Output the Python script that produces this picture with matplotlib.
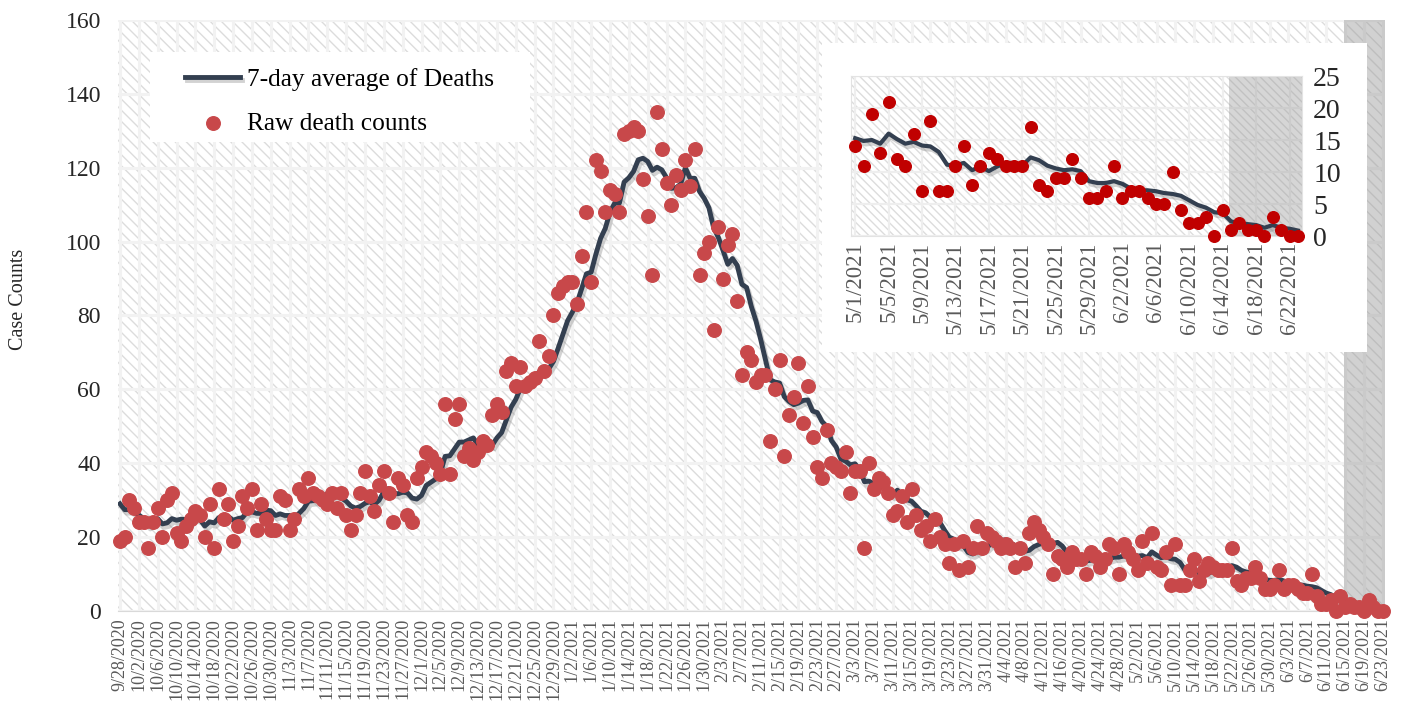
import numpy as np
import pandas as pd
import matplotlib
matplotlib.use("Agg")
import matplotlib.pyplot as plt
import matplotlib.patheffects as pe
from matplotlib.patches import Rectangle

plt.rcParams['font.family'] = ['Liberation Serif', 'DejaVu Serif']
plt.rcParams['hatch.linewidth'] = 1.0
plt.rcParams['hatch.color'] = '#DCDCDC'

# one category per day
dates = pd.date_range("2020-09-28", "2021-06-23", freq="D")

# 9/22-9/27, only used to seed the 7-day average
prior_week = [31, 30, 32, 30, 31, 30]

raw_deaths = [
    19, 20, 30, 28, 24, 24, 17, 24, 28, 20,
    30, 32, 21, 19, 23, 25, 27, 26, 20, 29,
    17, 33, 25, 29, 19, 23, 31, 28, 33, 22,
    29, 25, 22, 22, 31, 30, 22, 25, 33, 31,
    36, 32, 31, 30, 29, 32, 28, 32, 26, 22,
    26, 32, 38, 31, 27, 34, 38, 32, 24, 36,
    34, 26, 24, 36, 39, 43, 42, 40, 37, 56,
    37, 52, 56, 42, 44, 41, 43, 46, 45, 53,
    56, 54, 65, 67, 61, 66, 61, 62, 63, 73,
    65, 69, 80, 86, 88, 89, 89, 83, 96, 108,
    89, 122, 119, 108, 114, 113, 108, 129, 130, 131,
    130, 117, 107, 91, 135, 125, 116, 110, 118, 114,
    122, 115, 125, 91, 97, 100, 76, 104, 90, 99,
    102, 84, 64, 70, 68, 62, 64, 64, 46, 60,
    68, 42, 53, 58, 67, 51, 61, 47, 39, 36,
    49, 40, 39, 38, 43, 32, 38, 38, 17, 40,
    33, 36, 35, 32, 26, 27, 31, 24, 33, 26,
    22, 23, 19, 25, 20, 18, 13, 18, 11, 19,
    12, 17, 23, 17, 21, 20, 19, 17, 18, 17,
    12, 17, 13, 21, 24, 22, 20, 18, 10, 15,
    14, 12, 16, 14, 14, 10, 16, 15, 12, 14,
    18, 17, 10, 18, 16,
    14, 11, 19, 13, 21, 12, 11, 16, 7, 18,
    7, 7, 11, 14, 8, 11, 13, 12, 11, 11,
    11, 17, 8, 7, 9, 9, 12, 9, 6, 6,
    7, 11, 6, 7, 7, 6, 5, 5, 10, 4,
    2, 2, 3, 0, 4, 1, 2, 1, 1, 0,
    3, 1, 0, 0,
]

inset_start = "2021-05-01"
shade_start = "2021-06-15"

avg = pd.Series(prior_week + raw_deaths).rolling(7, min_periods=1).mean().to_numpy()[len(prior_week):]
raw = np.array(raw_deaths)
x = np.arange(len(dates))
labels = [f"{d.month}/{d.day}/{d.year}" for d in dates]

LINE = '#333F50'
shadow = [pe.SimpleLineShadow(offset=(1.5, -2.5), shadow_color='#808080', alpha=0.35), pe.Normal()]

fig = plt.figure(figsize=(14.02, 7.06), dpi=100)
ax = fig.add_axes([0.0839, 0.1346, 0.9040, 0.8371])

ax.add_patch(Rectangle((0, 0), 1, 1, transform=ax.transAxes, facecolor='white',
                       edgecolor='#DCDCDC', hatch='\\\\\\', lw=0, zorder=0))
ax.set_axisbelow(True)
ax.grid(True, color='#F2F2F2', lw=2.2)

s0 = dates.get_loc(pd.Timestamp(shade_start)) - 0.3
ax.axvspan(s0, len(dates) - 0.5, color='#9A9A9A', alpha=0.45, lw=0, zorder=1)

l1, = ax.plot(x, avg, color=LINE, lw=3.5, zorder=3, path_effects=shadow,
              label='7-day average of Deaths')
sc1 = ax.scatter(x, raw, s=95, color='#C8484A', zorder=4, clip_on=False,
                 label='Raw death counts')

ax.set_xlim(-0.5, len(dates) - 0.5)
ax.set_ylim(0, 160)
ax.set_yticks(range(0, 161, 20))
ax.set_xticks(x[::4])
ax.set_xticklabels(labels[::4], rotation=90, fontsize=13, color='#595959')
ax.tick_params(axis='x', length=0, pad=5)
ax.tick_params(axis='y', length=0, pad=12, labelsize=17, labelcolor='#262626')
for sp in ax.spines.values():
    sp.set_visible(False)
ax.spines['bottom'].set_visible(True)
ax.spines['bottom'].set_color('#D9D9D9')

fig.text(0.0135, 0.576, 'Case Counts', rotation=90, ha='center', va='center',
         fontsize=14.5, color='#262626')

# legend on its own white panel
ax.add_patch(Rectangle((0.0256, 0.7936), 0.2998, 0.1523, transform=ax.transAxes,
                       facecolor='white', edgecolor='none', zorder=5))
leg = ax.legend(handles=[l1, sc1], loc='upper left', bbox_to_anchor=(0.0532, 0.919),
                borderaxespad=0, borderpad=0, fontsize=18.3, frameon=False,
                handlelength=2.17, handletextpad=0.25, labelspacing=0.84)
leg.set_zorder(6)

# inset: last weeks zoomed
fig.add_artist(Rectangle((0.5863, 0.5014), 0.3887, 0.4377, transform=fig.transFigure,
                         facecolor='white', edgecolor='none', zorder=2))

i0 = dates.get_loc(pd.Timestamp(inset_start))
xi = x[i0:] - i0
ax2 = fig.add_axes([0.607, 0.6657, 0.3217, 0.2266])
ax2.set_zorder(3)
ax2.add_patch(Rectangle((0, 0), 1, 1, transform=ax2.transAxes, facecolor='white',
                        edgecolor='#DCDCDC', hatch='\\\\\\\\', lw=0, zorder=0))
ax2.set_axisbelow(True)
ax2.grid(True, color='#EEEEEE', lw=1.6)
ax2.axvspan(s0 - i0, len(xi) - 0.5, color='#9A9A9A', alpha=0.4, lw=0, zorder=1)
ax2.plot(xi, avg[i0:], color=LINE, lw=3, zorder=3, path_effects=shadow)
ax2.scatter(xi, raw[i0:], s=70, color='#C00000', zorder=4, clip_on=False)
ax2.set_xlim(-0.5, len(xi) - 0.5)
ax2.set_ylim(0, 25)
ax2.set_yticks(range(0, 26, 5))
ax2.yaxis.tick_right()
ax2.set_xticks(xi[::4])
ax2.set_xticklabels(labels[i0::4], rotation=90, fontsize=16.5, color='#595959')
ax2.tick_params(axis='x', length=0, pad=4)
ax2.tick_params(axis='y', length=0, pad=8, labelsize=20, labelcolor='#262626')
for sp in ax2.spines.values():
    sp.set_color('#E3E3E3')

fig.savefig("out.png", dpi=100)
